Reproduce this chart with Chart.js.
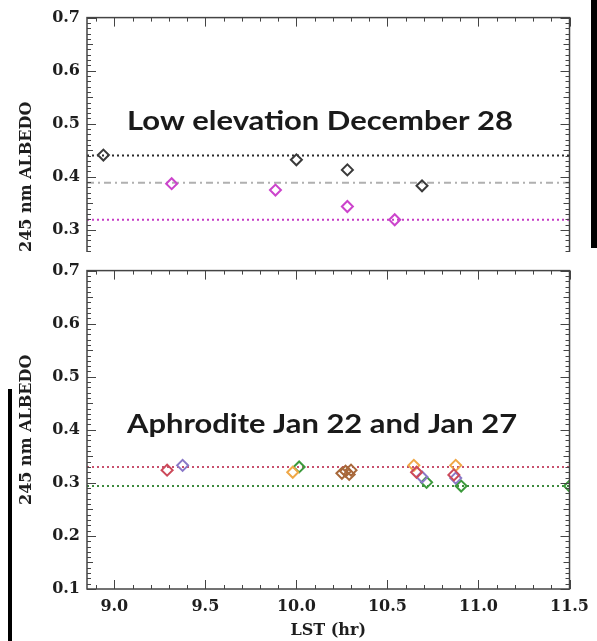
<!DOCTYPE html>
<html>
<head>
<meta charset="utf-8">
<script src="https://cdn.jsdelivr.net/npm/chart.js@4.4.1/dist/chart.umd.min.js"></script>
<style>
  html, body { margin: 0; padding: 0; background: #fff; }
  #stage { position: relative; width: 597px; height: 641px; overflow: hidden; background: #fff; }
  .panel { position: absolute; left: 0; width: 597px; overflow: hidden; }
  #top-panel { top: 1px; height: 251px; }
  #bottom-panel { top: 254px; height: 387px; }
  .edge-bar { position: absolute; background: #000; }
</style>
</head>
<body>
<div id="stage">
  <div class="panel" id="top-panel"><canvas id="top-chart" width="597" height="387"></canvas></div>
  <div class="panel" id="bottom-panel"><canvas id="bottom-chart" width="597" height="387"></canvas></div>
  <div class="edge-bar" style="left:591px;top:0;width:6px;height:248px"></div>
  <div class="edge-bar" style="left:8px;top:389px;width:4px;height:252px"></div>
</div>
<script>
var X_RANGE = [8.85, 11.5];
var Y_RANGE = [0.1, 0.7];
var X_TICKS = [9.0, 9.5, 10.0, 10.5, 11.0, 11.5];
var Y_TICKS = [0.1, 0.2, 0.3, 0.4, 0.5, 0.6, 0.7];

// Low elevation, December 28
var dec28BlackX = [8.94, 10.0, 10.28, 10.69];
var dec28BlackY = [0.441, 0.432, 0.413, 0.383];
var dec28MagentaX = [9.315, 9.885, 10.28, 10.54];
var dec28MagentaY = [0.387, 0.375, 0.344, 0.319];
var dec28Levels = [0.44, 0.389, 0.319]; // black, gray, magenta

// Aphrodite, Jan 22 and Jan 27
var aphRedX = [9.29, 10.66, 10.865];
var aphRedY = [0.324, 0.32, 0.315];
var aphPurpleX = [9.375, 10.69, 10.875];
var aphPurpleY = [0.333, 0.311, 0.309];
var aphOrangeX = [9.98, 10.645, 10.875];
var aphOrangeY = [0.32, 0.333, 0.333];
var aphGreenX = [10.015, 10.715, 10.905, 11.5];
var aphGreenY = [0.33, 0.301, 0.294, 0.294];
var aphBrownX = [10.25, 10.27, 10.29, 10.3];
var aphBrownY = [0.318, 0.322, 0.316, 0.324];
var aphLevels = [0.33, 0.294]; // red, green

var AXIS_FONT = { family: "'DejaVu Serif', serif", size: 16, weight: "bold" };
var AXIS_COLOR = "#1e1e1e";

function toPoints(xs, ys) {
  return xs.map(function (x, i) {
    return { x: x, y: ys[i] };
  });
}

function markerSet(xs, ys, color) {
  return {
    type: "scatter",
    data: toPoints(xs, ys),
    pointStyle: "rectRot",
    pointRadius: 5.5,
    pointHoverRadius: 5.5,
    pointBorderWidth: 2,
    borderColor: color,
    backgroundColor: "rgba(0,0,0,0)",
    showLine: false,
    order: 1,
  };
}

function levelSet(y, color, dash) {
  return {
    type: "line",
    data: [
      { x: X_RANGE[0], y: y },
      { x: X_RANGE[1], y: y },
    ],
    borderColor: color,
    borderWidth: 2,
    borderDash: dash,
    pointRadius: 0,
    fill: false,
    order: 2,
  };
}

// IDL-style box with inward major/minor ticks on all four sides
var framePlugin = {
  id: "idlFrame",
  afterDatasetsDraw: function (chart) {
    var ctx = chart.ctx;
    var area = chart.chartArea;
    var xs = chart.scales.x;
    var ys = chart.scales.y;
    var i, v, px, len;

    ctx.save();
    ctx.strokeStyle = "#444";
    ctx.lineWidth = 1.5;
    ctx.strokeRect(area.left, area.top, area.right - area.left, area.bottom - area.top);

    ctx.lineWidth = 1;
    ctx.beginPath();
    for (i = 0; i <= 26; i++) {
      v = 8.9 + i * 0.1;
      px = Math.round(xs.getPixelForValue(v)) + 0.5;
      len = Math.abs(v * 2 - Math.round(v * 2)) < 1e-6 ? 9 : 4;
      ctx.moveTo(px, area.bottom);
      ctx.lineTo(px, area.bottom - len);
      ctx.moveTo(px, area.top);
      ctx.lineTo(px, area.top + len);
    }
    for (i = 0; i <= 60; i++) {
      v = 0.1 + i * 0.01;
      px = Math.round(ys.getPixelForValue(v)) + 0.5;
      len = i % 10 === 0 ? 9 : i % 5 === 0 ? 6 : 4;
      ctx.moveTo(area.left, px);
      ctx.lineTo(area.left + len, px);
      ctx.moveTo(area.right, px);
      ctx.lineTo(area.right - len, px);
    }
    ctx.stroke();
    ctx.restore();
  },
};

// Panel caption, stretched a little to the width of the original Calibri text
var notePlugin = {
  id: "panelNote",
  afterDatasetsDraw: function (chart, args, opts) {
    if (!opts || !opts.text) {
      return;
    }
    var ctx = chart.ctx;
    var x = chart.scales.x.getPixelForValue(opts.x);
    var y = chart.scales.y.getPixelForValue(opts.y);
    ctx.save();
    ctx.font = "bold 27px Lato, 'Open Sans', sans-serif";
    ctx.fillStyle = "#1a1a1a";
    ctx.textAlign = "left";
    ctx.textBaseline = "alphabetic";
    var measured = ctx.measureText(opts.text).width;
    ctx.translate(x, y);
    ctx.scale(opts.width / measured, 1);
    ctx.fillText(opts.text, 0, 0);
    ctx.restore();
  },
};

function buildPanel(canvasId, datasets, note) {
  var canvas = document.getElementById(canvasId);
  return new Chart(canvas, {
    type: "scatter",
    data: { datasets: datasets },
    plugins: [framePlugin, notePlugin],
    options: {
      responsive: false,
      animation: false,
      devicePixelRatio: 1,
      layout: { padding: { left: 0, right: 26, top: 16, bottom: 0 } },
      plugins: {
        legend: { display: false },
        tooltip: { enabled: false },
        panelNote: note,
      },
      scales: {
        x: {
          type: "linear",
          min: X_RANGE[0],
          max: X_RANGE[1],
          afterBuildTicks: function (scale) {
            scale.ticks = X_TICKS.map(function (v) {
              return { value: v };
            });
          },
          afterFit: function (scale) {
            scale.height = 52;
          },
          grid: { display: false, drawTicks: false },
          border: { display: false },
          ticks: {
            autoSkip: false,
            maxRotation: 0,
            padding: 8,
            color: AXIS_COLOR,
            font: AXIS_FONT,
            callback: function (v) {
              return Number(v).toFixed(1);
            },
          },
          title: {
            display: true,
            text: "LST (hr)",
            color: AXIS_COLOR,
            font: AXIS_FONT,
            padding: { top: 0, bottom: 1 },
          },
        },
        y: {
          type: "linear",
          min: Y_RANGE[0],
          max: Y_RANGE[1],
          afterBuildTicks: function (scale) {
            scale.ticks = Y_TICKS.map(function (v) {
              return { value: v };
            });
          },
          afterFit: function (scale) {
            scale.width = 87;
          },
          grid: { display: false, drawTicks: false },
          border: { display: false },
          ticks: {
            padding: 7,
            color: AXIS_COLOR,
            font: AXIS_FONT,
            callback: function (v) {
              return Number(v).toFixed(1);
            },
          },
          title: {
            display: true,
            text: "245 nm ALBEDO",
            color: AXIS_COLOR,
            font: AXIS_FONT,
            padding: { top: 17, bottom: 0 },
          },
        },
      },
    },
  });
}

buildPanel(
  "top-chart",
  [
    levelSet(dec28Levels[0], "#2a2a2a", [2, 3]),
    levelSet(dec28Levels[1], "#b0b0b0", [7, 4, 2, 4]),
    levelSet(dec28Levels[2], "#c63cc6", [2, 3]),
    markerSet(dec28BlackX, dec28BlackY, "#3a3a3a"),
    markerSet(dec28MagentaX, dec28MagentaY, "#cc44cc"),
  ],
  { text: "Low elevation December 28", x: 9.07, y: 0.488, width: 386 }
);

buildPanel(
  "bottom-chart",
  [
    levelSet(aphLevels[0], "#c8506e", [2, 3]),
    levelSet(aphLevels[1], "#3d8a3d", [2, 3]),
    markerSet(aphRedX, aphRedY, "#cc4a5a"),
    markerSet(aphPurpleX, aphPurpleY, "#8a78c8"),
    markerSet(aphOrangeX, aphOrangeY, "#f0a848"),
    markerSet(aphGreenX, aphGreenY, "#3c9a3c"),
    markerSet(aphBrownX, aphBrownY, "#a8683a"),
  ],
  { text: "Aphrodite Jan 22 and Jan 27", x: 9.07, y: 0.394, width: 390 }
);
</script>
</body>
</html>
